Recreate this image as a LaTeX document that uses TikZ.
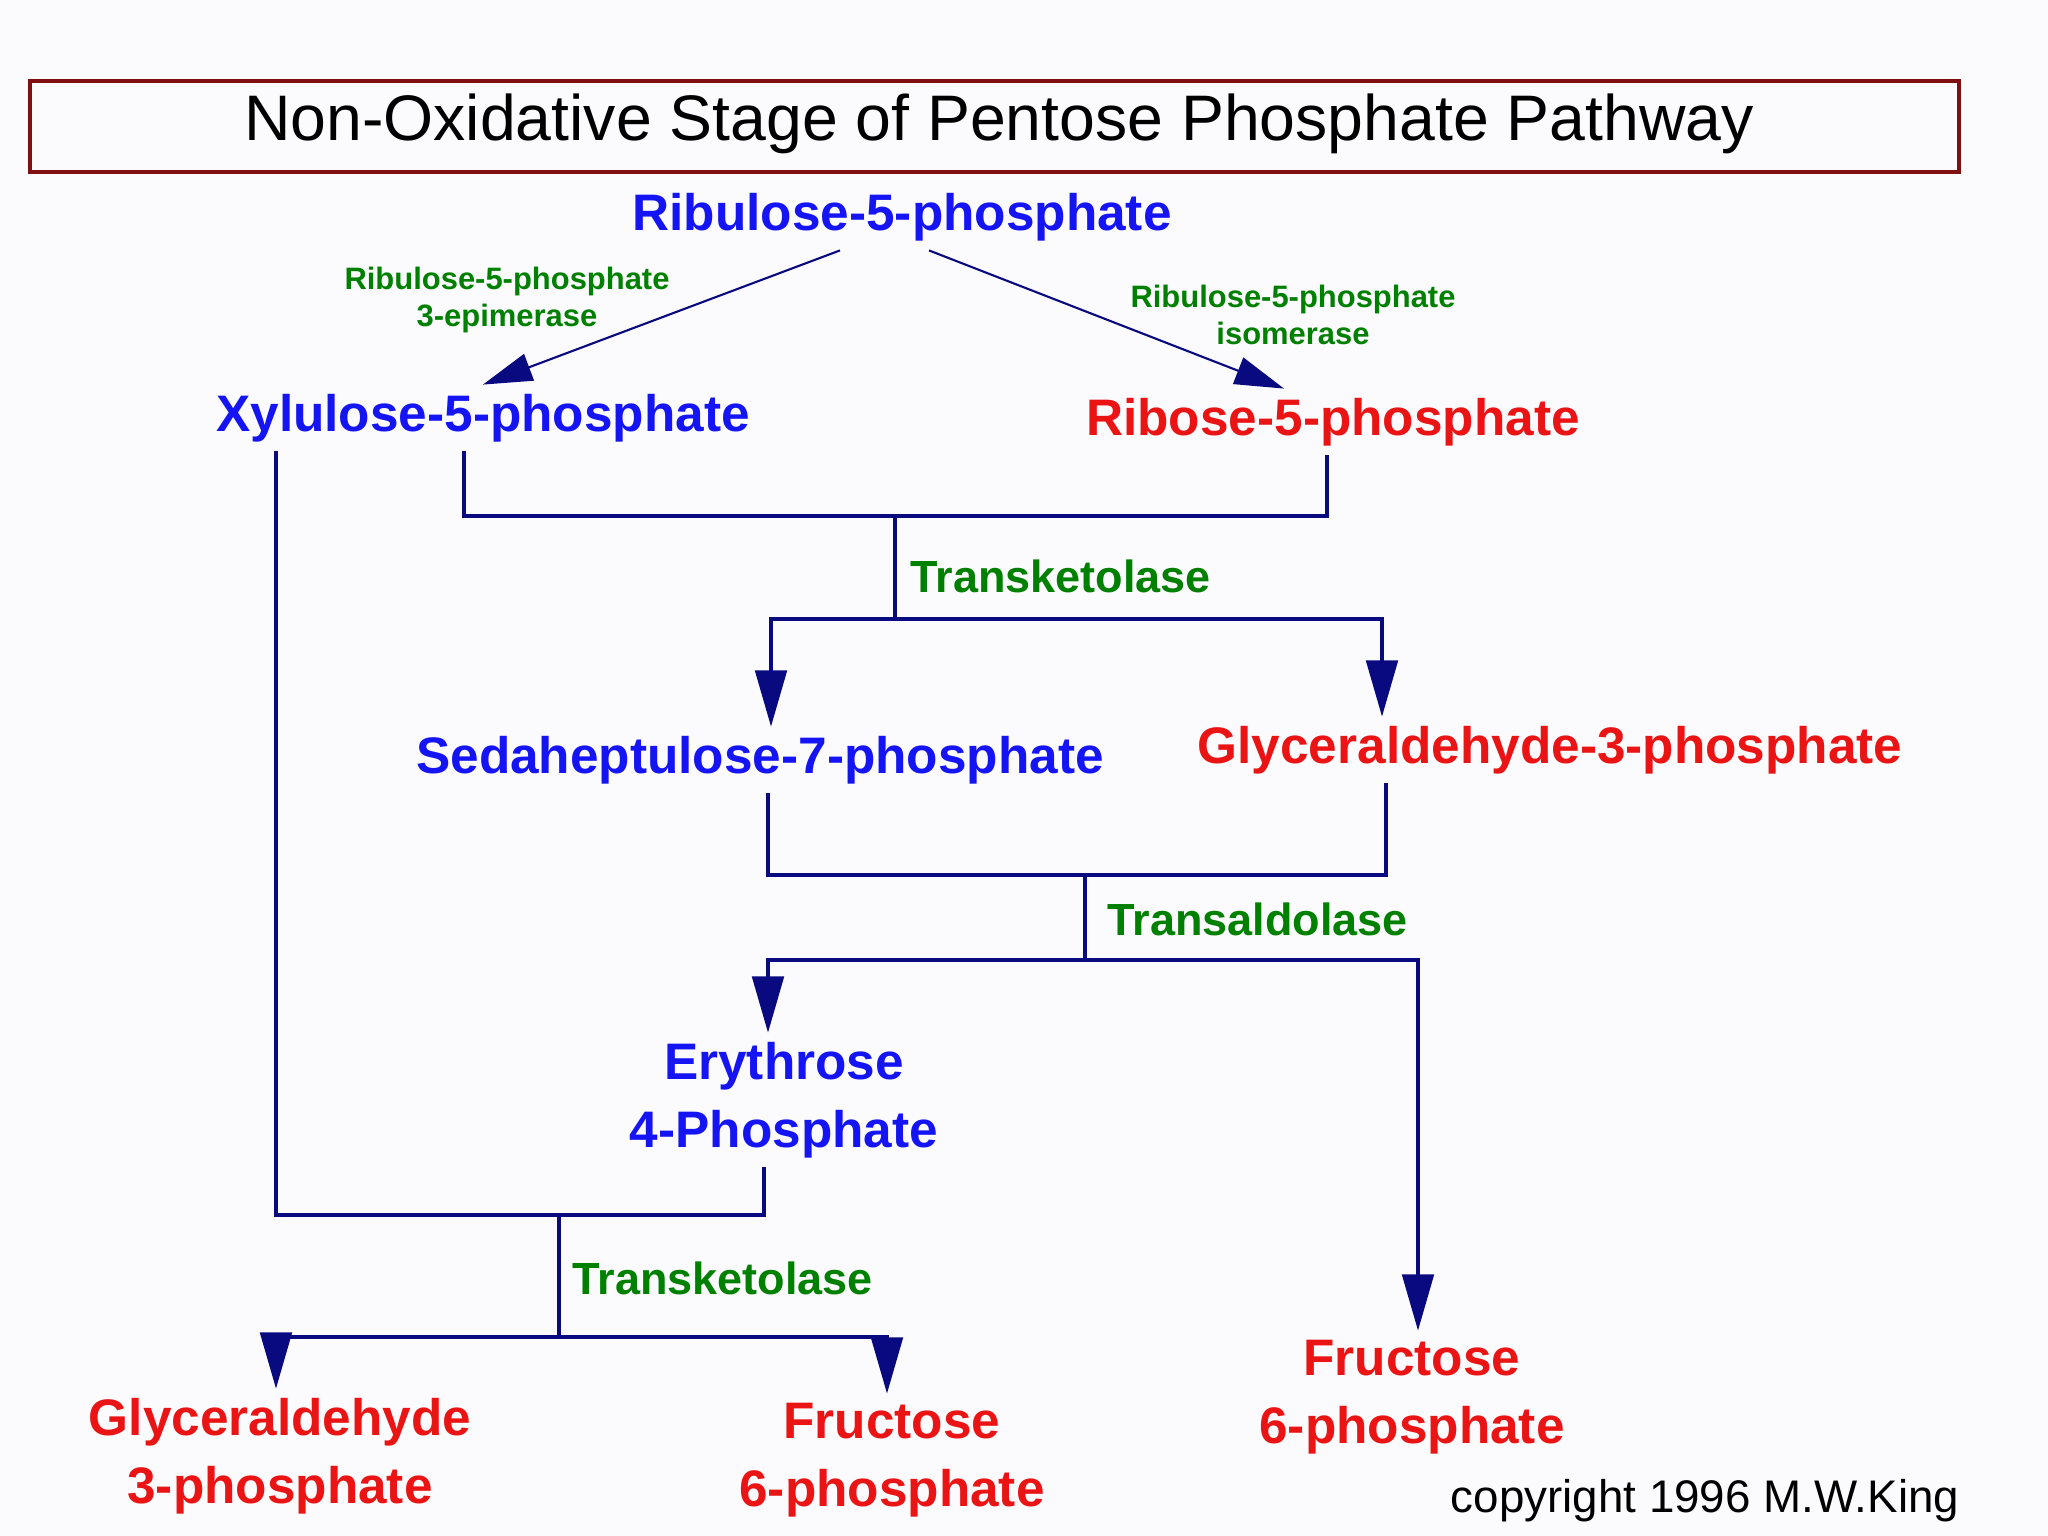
\documentclass[tikz,border=0pt]{standalone}
\usepackage{fontspec}
\setmainfont{Liberation Sans}
\usepackage{xcolor}
\usetikzlibrary{arrows.meta, positioning, calc}
\definecolor{sugarB}{RGB}{20,20,245}
\definecolor{sugarR}{RGB}{235,20,20}
\definecolor{enzG}{RGB}{0,128,0}
\definecolor{pathN}{RGB}{10,10,128}
\definecolor{titleR}{RGB}{128,16,16}
\definecolor{paper}{RGB}{251,251,253}
\tikzset{
  blueS/.style={font=\fontsize{14.6}{19.3}\selectfont\bfseries,
                text=sugarB, inner sep=2.5pt, align=center},
  redS/.style={font=\fontsize{14.6}{19.3}\selectfont\bfseries,
               text=sugarR, inner sep=2.5pt, align=center},
  enzL/.style={font=\fontsize{12.8}{15}\selectfont\bfseries,
               text=enzG, inner sep=0pt, anchor=west},
  enzS/.style={font=\fontsize{8.8}{10.5}\selectfont\bfseries,
               text=enzG, inner sep=0pt, align=center},
  link/.style={draw=pathN, line width=0.9pt},
  linkA/.style={link, -{Triangle[length=16pt, width=9pt]}},
  diagA/.style={draw=pathN, line width=0.6pt,
                -{Triangle[length=14pt, width=8pt]}},
}

\begin{document}
\begin{tikzpicture}[x=0.01cm, y=-0.01cm]
    \fill[paper] (0,0) rectangle (2048,1536);
    %% title
    \draw[titleR, line width=1.1pt] (30,81) rectangle (1959,172);
    \node[font=\fontsize{18.3}{22}\selectfont] (title) at (999,124)
      {Non-Oxidative Stage of Pentose Phosphate Pathway};
    %% sugars
    \node[blueS] (ru5p) at (902,217) {Ribulose-5-phosphate};
    \node[blueS] (xu5p) at (483,418) {Xylulose-5-phosphate};
    \node[redS]  (r5p)  at (1333,422) {Ribose-5-phosphate};
    \node[blueS] (s7p)  at (760,760) {Sedaheptulose-7-phosphate};
    \node[redS]  (g3p)  at (1550,750) {Glyceraldehyde-3-phosphate};
    \node[blueS] (e4p)  at (784,1100) {Erythrose\\4-Phosphate};
    \node[redS]  (f6p)  at (1412,1397) {Fructose\\6-phosphate};
    \node[redS]  (g3pb) at (280,1456) {Glyceraldehyde\\3-phosphate};
    \node[redS]  (f6pb) at (892,1460) {Fructose\\6-phosphate};
    %% enzymes
    \node[enzS] (epi) at (507,300) {Ribulose-5-phosphate\\3-epimerase};
    \node[enzS] (iso) at (1293,315) {Ribulose-5-phosphate\\isomerase};
    \node[enzL] (tkA) at (910,576) {Transketolase};
    \node[enzL] (taA) at (1107,919) {Transaldolase};
    \node[enzL] (tkB) at (572,1278) {Transketolase};
    %% junctions
    \coordinate (j1L) at (464,516);  \coordinate (j1) at (895,516);
    \coordinate (j1R) at (1327,516); \coordinate (b1) at (895,619);
    \coordinate (b1L) at (771,619);  \coordinate (b1R) at (1382,619);
    \coordinate (j2L) at (768,875);  \coordinate (j2) at (1085,875);
    \coordinate (j2R) at (1386,875); \coordinate (b2) at (1085,960);
    \coordinate (b2L) at (768,960);  \coordinate (b2R) at (1418,960);
    \coordinate (j3L) at (276,1215); \coordinate (j3) at (559,1215);
    \coordinate (j3R) at (764,1215); \coordinate (b3) at (559,1337);
    \coordinate (b3L) at (276,1337); \coordinate (b3R) at (887,1337);
    %% epimerase / isomerase
    \draw[diagA] ([xshift=-0.62cm]ru5p.south) -- (xu5p.north);
    \draw[diagA] ([xshift=0.27cm]ru5p.south) -- ([xshift=-0.49cm]r5p.north);
    %% transketolase 1
    \draw[link] (xu5p.south -| j1L) -- (j1L) -- (j1R) -- (r5p.south -| j1R);
    \draw[link] (j1) -- (b1);
    \draw[linkA] (b1) -- (b1L) -- (s7p.north -| b1L);
    \draw[linkA] (b1) -- (b1R) -- (g3p.north -| b1R);
    %% transaldolase
    \draw[link] (s7p.south -| j2L) -- (j2L) -- (j2R) -- (g3p.south -| j2R);
    \draw[link] (j2) -- (b2);
    \draw[linkA] (b2) -- (b2L) -- (e4p.north -| b2L);
    \draw[linkA] (b2) -- (b2R) -- (f6p.north -| b2R);
    %% transketolase 2
    \draw[link] (xu5p.south -| j3L) -- (j3L) -- (j3R) -- (e4p.south -| j3R);
    \draw[link] (j3) -- (b3);
    \draw[linkA] (b3) -- (b3L) -- (g3pb.north -| b3L);
    \draw[linkA] (b3) -- (b3R) -- (f6pb.north -| b3R);
    %% copyright
    \node[font=\fontsize{13}{15}\selectfont] (copy) at (1705,1501)
      {copyright 1996 M.W.King};
\end{tikzpicture}
\end{document}
